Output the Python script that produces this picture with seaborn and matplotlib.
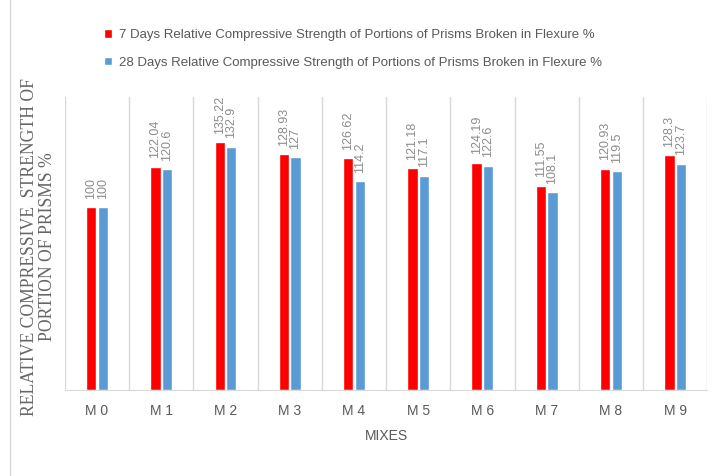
import matplotlib
matplotlib.use("Agg")
import matplotlib.pyplot as plt
import seaborn as sns
import pandas as pd
import numpy as np

mixes = ["M 0", "M 1", "M 2", "M 3", "M 4", "M 5", "M 6", "M 7", "M 8", "M 9"]
days7 = [100, 122.04, 135.22, 128.93, 126.62, 121.18, 124.19, 111.55, 120.93, 128.3]
days28 = [100, 120.6, 132.9, 127, 114.2, 117.1, 122.6, 108.1, 119.5, 123.7]
series = ["7 Days Relative Compressive Strength of Portions of Prisms Broken in Flexure %",
          "28 Days Relative Compressive Strength of Portions of Prisms Broken in Flexure %"]
labels7 = ["100", "122.04", "135.22", "128.93", "126.62", "121.18", "124.19", "111.55", "120.93", "128.3"]
labels28 = ["100", "120.6", "132.9", "127", "114.2", "117.1", "122.6", "108.1", "119.5", "123.7"]

df = pd.DataFrame({
    "mix": mixes * 2,
    "value": days7 + days28,
    "series": [series[0]] * len(mixes) + [series[1]] * len(mixes),
})

sns.set_style("white")
plt.rcParams["font.family"] = ["Liberation Sans", "DejaVu Sans"]

fig = plt.figure(figsize=(7.13, 4.76), dpi=100)
ax = fig.add_axes([0.091, 0.181, 0.901, 0.615])

sns.barplot(data=df, x="mix", y="value", hue="series", order=mixes, hue_order=series,
            palette=["#FF0000", "#5B9BD5"], width=0.36, gap=0.1, saturation=1,
            ax=ax, legend=True)

for cont, labs in zip(ax.containers, [labels7, labels28]):
    ax.bar_label(cont, labels=labs, rotation=90, padding=6, fontsize=9, color="#8c8c8c")

ax.set_ylim(0, 160)
ax.set_xlim(-0.5, 9.5)
ax.set_yticks([])
ax.set_xticks(np.arange(-0.5, 10, 1), minor=True)
ax.grid(True, which="minor", axis="x", color="#d9d9d9", lw=1)
ax.tick_params(axis="x", which="both", length=0, labelsize=10, labelcolor="#595959", pad=10)
for s in ["top", "right", "left"]:
    ax.spines[s].set_visible(False)
ax.spines["bottom"].set_color("#d9d9d9")

ax.set_xlabel("MIXES", fontsize=10, color="#595959", labelpad=8)
ax.set_ylabel("")
fig.text(0.054, 0.482, "RELATIVE COMPRESSIVE  STRENGTH OF\nPORTION OF PRISMS %",
         rotation=90, ha="center", va="center", fontsize=12.7, color="#666666",
         family="Liberation Serif", linespacing=1.05, multialignment="center")

h, l = ax.get_legend_handles_labels()
ax.get_legend().remove()
fig.legend(h, l, loc="center", bbox_to_anchor=(0.495, 0.897), frameon=False, ncol=1,
           fontsize=9.5, labelcolor="#595959", handlelength=0.6, handleheight=0.6,
           handletextpad=0.5, labelspacing=1.2)

fig.add_artist(plt.Line2D([0.014, 0.014], [0, 1], color="#d9d9d9", lw=1))

fig.savefig("out.png", dpi=100)
